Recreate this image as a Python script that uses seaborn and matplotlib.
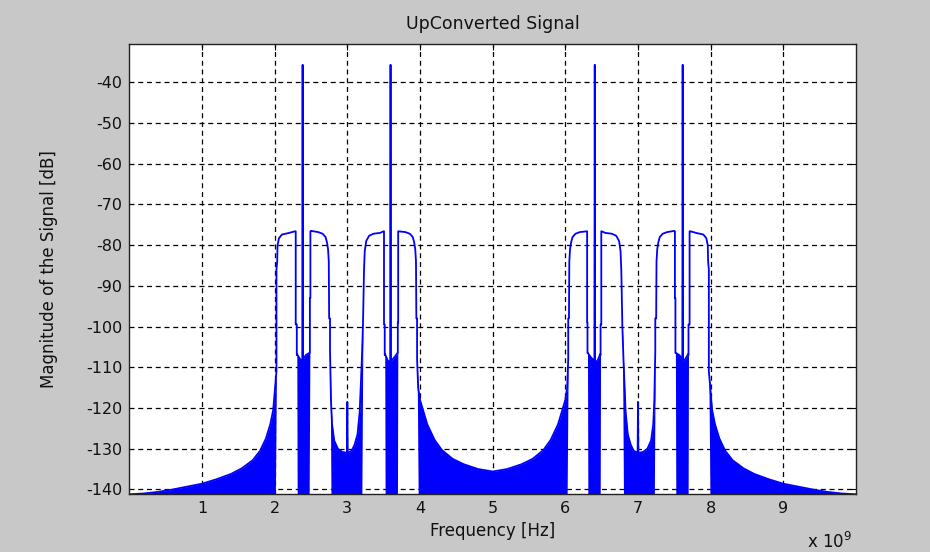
import numpy as np
import pandas as pd
import matplotlib
matplotlib.use("Agg")
import matplotlib.pyplot as plt
import seaborn as sns

# ---- data (frequency in GHz, magnitude in dB) ----
freq_ghz = [
    0.00, 0.20, 0.40, 0.60, 0.80, 1.00, 1.20, 1.40, 1.55, 1.70, 1.80, 1.88, 1.94, 1.98, 2.01,
    2.025, 2.025, 2.035, 2.04, 2.06, 2.10, 2.20, 2.28, 2.29, 2.29, 2.305, 2.305,
    2.31, 2.35, 2.38, 2.385, 2.39, 2.43, 2.475,
    2.485, 2.485, 2.492, 2.492, 2.50, 2.60, 2.66, 2.70, 2.72, 2.735, 2.745, 2.75, 2.762, 2.762,
    2.775, 2.79, 2.82, 2.87, 2.93, 2.995, 3.00, 3.005, 3.06, 3.10, 3.14, 3.17, 3.20,
    3.215, 3.23, 3.24, 3.26, 3.30, 3.36, 3.45, 3.50, 3.505, 3.505, 3.515, 3.515,
    3.52, 3.56, 3.59, 3.595, 3.60, 3.65, 3.69,
    3.695, 3.695, 3.70, 3.70, 3.80, 3.86, 3.90, 3.92, 3.935, 3.945, 3.95, 3.96, 3.96,
    3.975, 4.00, 4.05, 4.10, 4.20, 4.30, 4.45, 4.60, 4.80, 5.00,
    5.20, 5.40, 5.55, 5.70, 5.80, 5.90, 5.95, 6.00, 6.025,
    6.04, 6.04, 6.05, 6.055, 6.065, 6.08, 6.10, 6.14, 6.20, 6.30, 6.30, 6.305, 6.305,
    6.31, 6.35, 6.40, 6.405, 6.41, 6.44, 6.48,
    6.485, 6.485, 6.495, 6.495, 6.50, 6.55, 6.64, 6.70, 6.74, 6.76, 6.77, 6.785,
    6.80, 6.83, 6.86, 6.90, 6.94, 6.995, 7.00, 7.005, 7.07, 7.13, 7.18, 7.21, 7.225,
    7.238, 7.238, 7.25, 7.255, 7.265, 7.28, 7.30, 7.34, 7.40, 7.50, 7.508, 7.508, 7.515, 7.515,
    7.52, 7.57, 7.61, 7.615, 7.62, 7.65, 7.69,
    7.695, 7.695, 7.71, 7.71, 7.72, 7.80, 7.90, 7.94, 7.96, 7.965, 7.975, 7.975,
    7.99, 8.02, 8.06, 8.12, 8.20, 8.30, 8.45, 8.60, 8.80, 9.00, 9.20, 9.40, 9.60, 9.80, 10.00,
]

mag_upper_db = [
    -141.2, -141.0, -140.6, -140.0, -139.3, -138.6, -137.5, -136.2, -134.8, -132.8, -130.5, -127.5, -124.0, -120.5, -114.0,
    -111.0, -86.0, -84.0, -80.0, -78.3, -77.4, -77.0, -76.6, -76.6, -99.5, -99.5, -107.0,
    -106.8, -108.0, -108.5, -35.7, -108.0, -107.0, -106.5,
    -106.5, -93.0, -93.0, -76.6, -76.5, -76.8, -77.2, -78.0, -79.3, -81.0, -84.0, -98.0, -98.0, -106.0,
    -118.0, -124.0, -128.0, -130.0, -130.8, -131.0, -118.5, -131.0, -130.5, -129.0, -126.5, -121.0, -108.0,
    -100.0, -86.0, -81.5, -79.0, -77.7, -77.2, -77.0, -76.6, -76.6, -99.5, -99.5, -107.0,
    -106.8, -108.5, -108.5, -35.7, -108.5, -107.5, -106.5,
    -106.5, -99.0, -99.0, -76.6, -76.8, -77.2, -78.0, -79.3, -81.0, -84.0, -98.0, -98.0, -108.0,
    -115.0, -118.0, -121.0, -124.0, -127.8, -130.3, -132.5, -133.8, -135.0, -135.6,
    -135.0, -133.8, -132.5, -130.3, -127.8, -124.0, -121.0, -118.0, -115.0,
    -108.0, -98.0, -98.0, -84.0, -81.0, -79.3, -78.0, -77.2, -76.8, -76.6, -99.0, -99.0, -106.5,
    -106.5, -107.5, -108.5, -35.7, -108.5, -108.5, -106.8,
    -107.0, -99.5, -99.5, -76.6, -76.6, -77.0, -77.2, -77.7, -79.0, -81.5, -86.0, -100.0,
    -108.0, -121.0, -126.5, -129.0, -130.5, -131.0, -118.5, -131.0, -130.8, -130.0, -128.0, -124.0, -118.0,
    -106.0, -98.0, -98.0, -84.0, -81.0, -79.3, -78.0, -77.2, -76.8, -76.5, -76.6, -93.0, -93.0, -106.5,
    -106.5, -107.0, -108.0, -35.7, -108.5, -108.0, -106.8,
    -107.0, -99.5, -99.5, -76.6, -76.6, -77.0, -77.4, -78.3, -80.0, -84.0, -86.0, -111.0,
    -114.0, -120.5, -124.0, -127.5, -130.5, -132.8, -134.8, -136.2, -137.5, -138.6, -139.3, -140.0, -140.6, -141.0, -141.2,
]

# lower edge of the dense noise floor (equal to the upper trace where the spectrum is smooth)
mag_lower_db = [
    -141.2, -141.2, -141.2, -141.2, -141.2, -141.2, -141.2, -141.2, -141.2, -141.2, -141.2, -141.2, -141.2, -141.2, -141.2,
    -111.0, -86.0, -84.0, -80.0, -78.3, -77.4, -77.0, -76.6, -76.6, -99.5, -99.5, -107.0,
    -141.2, -141.2, -141.2, -141.2, -141.2, -141.2, -141.2,
    -106.5, -93.0, -93.0, -76.6, -76.5, -76.8, -77.2, -78.0, -79.3, -81.0, -84.0, -98.0, -98.0, -106.0,
    -141.2, -141.2, -141.2, -141.2, -141.2, -141.2, -141.2, -141.2, -141.2, -141.2, -141.2, -141.2, -141.2,
    -100.0, -86.0, -81.5, -79.0, -77.7, -77.2, -77.0, -76.6, -76.6, -99.5, -99.5, -107.0,
    -141.2, -141.2, -141.2, -141.2, -141.2, -141.2, -141.2,
    -106.5, -99.0, -99.0, -76.6, -76.8, -77.2, -78.0, -79.3, -81.0, -84.0, -98.0, -98.0, -108.0,
    -141.2, -141.2, -141.2, -141.2, -141.2, -141.2, -141.2, -141.2, -141.2, -141.2,
    -141.2, -141.2, -141.2, -141.2, -141.2, -141.2, -141.2, -141.2, -141.2,
    -108.0, -98.0, -98.0, -84.0, -81.0, -79.3, -78.0, -77.2, -76.8, -76.6, -99.0, -99.0, -106.5,
    -141.2, -141.2, -141.2, -141.2, -141.2, -141.2, -141.2,
    -107.0, -99.5, -99.5, -76.6, -76.6, -77.0, -77.2, -77.7, -79.0, -81.5, -86.0, -100.0,
    -141.2, -141.2, -141.2, -141.2, -141.2, -141.2, -141.2, -141.2, -141.2, -141.2, -141.2, -141.2, -141.2,
    -106.0, -98.0, -98.0, -84.0, -81.0, -79.3, -78.0, -77.2, -76.8, -76.5, -76.6, -93.0, -93.0, -106.5,
    -141.2, -141.2, -141.2, -141.2, -141.2, -141.2, -141.2,
    -107.0, -99.5, -99.5, -76.6, -76.6, -77.0, -77.4, -78.3, -80.0, -84.0, -86.0, -111.0,
    -141.2, -141.2, -141.2, -141.2, -141.2, -141.2, -141.2, -141.2, -141.2, -141.2, -141.2, -141.2, -141.2, -141.2, -141.2,
]

x_ticks = [1, 2, 3, 4, 5, 6, 7, 8, 9]
x_tick_labels = ["1", "2", "3", "4", "5", "6", "7", "8", "9"]
y_ticks = [-40, -50, -60, -70, -80, -90, -100, -110, -120, -130, -140]

df = pd.DataFrame({"f": freq_ghz, "upper": mag_upper_db, "lower": mag_lower_db})

# ---- style ----
sns.set_style("white")
plt.rcParams["font.family"] = ["DejaVu Sans"]
plt.rcParams["axes.unicode_minus"] = False

BG = "#c8c8c8"
BLUE = "#0000ff"

fig = plt.figure(figsize=(9.3, 5.52), dpi=100, facecolor=BG)
ax = fig.add_axes([129.3 / 930, 1 - 494.3 / 552, 726.7 / 930, 450.3 / 552])
ax.set_facecolor("white")

ax.fill_between(df["f"], df["lower"], df["upper"], color=BLUE, linewidth=0, zorder=2)
sns.lineplot(data=df, x="f", y="upper", sort=False, estimator=None,
             color=BLUE, linewidth=1.3, ax=ax, zorder=3)

ax.set_xlim(0, 10)
ax.set_ylim(-141.2, -30.6)
ax.set_xticks(x_ticks)
ax.set_xticklabels(x_tick_labels)
ax.set_yticks(y_ticks)

ax.grid(True, color="black", linestyle=(0, (4, 3)), linewidth=0.9, zorder=1)
ax.set_axisbelow(True)
for s in ax.spines.values():
    s.set_visible(True)
    s.set_color("#222222")
    s.set_linewidth(1.0)
ax.tick_params(direction="in", length=4, width=0.8, top=True, right=True,
               labelsize=11.5, colors="black", pad=5)
ax.tick_params(axis="both", labelcolor="#111111")

ax.set_title("UpConverted Signal", fontsize=12.5, pad=11, color="#111111")
ax.set_xlabel("Frequency [Hz]", fontsize=12, color="#111111")
ax.set_ylabel("Magnitude of the Signal [dB]", fontsize=12, color="#111111")
ax.xaxis.set_label_coords(0.5, -0.062)
ax.xaxis.label.set_va("top")
ax.yaxis.set_label_coords(-0.098, 0.5)

fig.text(807 / 930, 1 - 548 / 552, r"x 10$^{9}$", fontsize=12, color="#111111",
         ha="left", va="baseline")

fig.savefig("out.png", dpi=100, facecolor=BG)
